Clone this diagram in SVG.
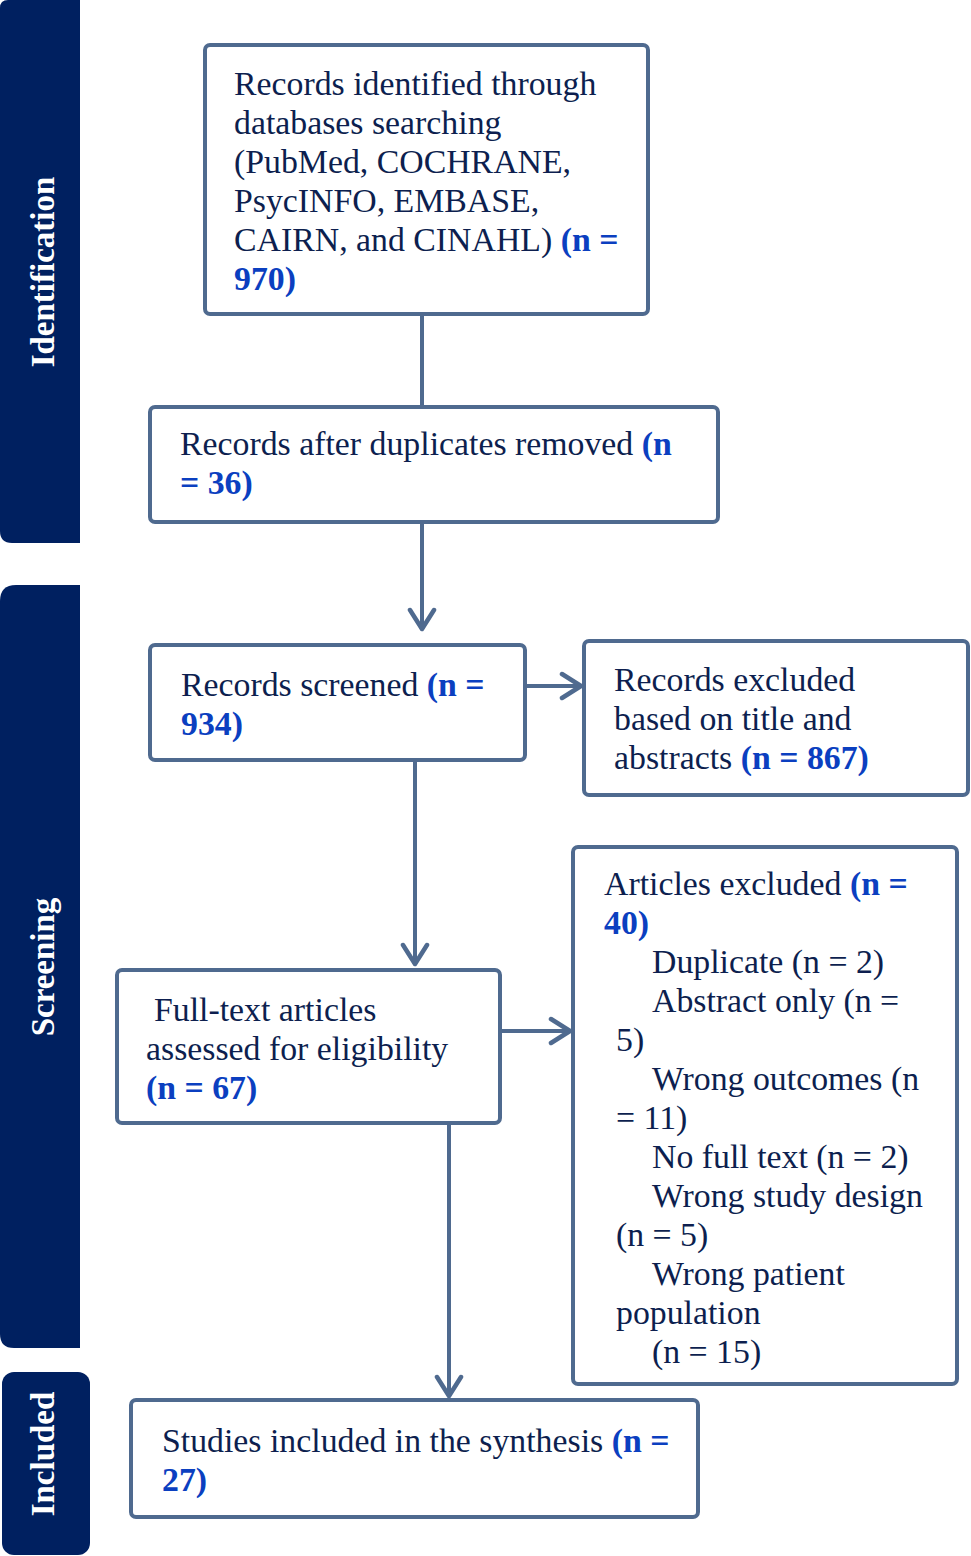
<svg xmlns="http://www.w3.org/2000/svg" width="971" height="1556" viewBox="0 0 971 1556">
<defs>
<style>
.bar{fill:#002060}
.lbl{font-family:"Liberation Serif","Times New Roman",serif;font-weight:bold;font-size:33px;fill:#ffffff;text-anchor:middle}
.box{fill:#ffffff;stroke:#4F6A8F;stroke-width:4}
.t{font-family:"Liberation Serif","Times New Roman",serif;font-size:33.8px;fill:#0D1F4F}
.b{font-weight:bold;fill:#0B3FC0}
.ln{fill:none;stroke:#4F6A8F;stroke-width:4}
</style>
<marker id="ah" viewBox="0 0 28 30" refX="24" refY="15" markerWidth="28" markerHeight="30" markerUnits="userSpaceOnUse" orient="auto">
<path d="M5,3 L24,15 L5,27" fill="none" stroke="#4F6A8F" stroke-width="4.5" stroke-linecap="round" stroke-linejoin="round"/>
</marker>
</defs>
<rect width="971" height="1556" fill="#ffffff"/>
<g id="phase-identification">
<path class="bar" d="M8,0 H80 V543 H12 Q0,543 0,531 V8 Q0,0 8,0 Z"/>
<text class="lbl" transform="translate(54,272) rotate(-90)">Identification</text>
</g>
<g id="phase-screening">
<path class="bar" d="M16,585 H80 V1348 H14 Q0,1348 0,1334 V601 Q0,585 16,585 Z"/>
<text class="lbl" transform="translate(54,967) rotate(-90)">Screening</text>
</g>
<g id="phase-included">
<rect class="bar" x="2" y="1372" width="88" height="183" rx="12"/>
<text class="lbl" transform="translate(54,1454) rotate(-90)">Included</text>
</g>
<g id="connectors">
<line class="ln" x1="422" y1="314" x2="422" y2="407"/>
<line class="ln" x1="422" y1="522" x2="422" y2="629" marker-end="url(#ah)"/>
<line class="ln" x1="525" y1="686" x2="581" y2="686" marker-end="url(#ah)"/>
<line class="ln" x1="415" y1="760" x2="415" y2="964" marker-end="url(#ah)"/>
<line class="ln" x1="500" y1="1031" x2="570" y2="1031" marker-end="url(#ah)"/>
<line class="ln" x1="449" y1="1123" x2="449" y2="1396" marker-end="url(#ah)"/>
</g>
<g id="node-identified">
<rect class="box" x="205" y="45" width="443" height="269" rx="5"/>
<text class="t" x="234" y="95">Records identified through</text>
<text class="t" x="234" y="134">databases searching</text>
<text class="t" x="234" y="173">(PubMed, COCHRANE,</text>
<text class="t" x="234" y="212">PsycINFO, EMBASE,</text>
<text class="t" x="234" y="251">CAIRN, and CINAHL) <tspan class="b">(n =</tspan></text>
<text class="t b" x="234" y="290">970)</text>
</g>
<g id="node-dedup">
<rect class="box" x="150" y="407" width="568" height="115" rx="5"/>
<text class="t" x="180" y="455">Records after duplicates removed <tspan class="b">(n</tspan></text>
<text class="t b" x="180" y="494">= 36)</text>
</g>
<g id="node-screened">
<rect class="box" x="150" y="645" width="375" height="115" rx="5"/>
<text class="t" x="181" y="696">Records screened <tspan class="b">(n =</tspan></text>
<text class="t b" x="181" y="735">934)</text>
</g>
<g id="node-excluded-records">
<rect class="box" x="584" y="641" width="384" height="154" rx="5"/>
<text class="t" x="614" y="691">Records excluded</text>
<text class="t" x="614" y="730">based on title and</text>
<text class="t" x="614" y="769">abstracts <tspan class="b">(n = 867)</tspan></text>
</g>
<g id="node-fulltext">
<rect class="box" x="117" y="970" width="383" height="153" rx="5"/>
<text class="t" x="154" y="1021">Full-text articles</text>
<text class="t" x="146" y="1060">assessed for eligibility</text>
<text class="t b" x="146" y="1099">(n = 67)</text>
</g>
<g id="node-excluded-articles">
<rect class="box" x="573" y="847" width="384" height="537" rx="5"/>
<text class="t" x="604" y="895">Articles excluded <tspan class="b">(n =</tspan></text>
<text class="t b" x="604" y="934">40)</text>
<text class="t" x="652" y="973">Duplicate (n = 2)</text>
<text class="t" x="652" y="1012">Abstract only (n =</text>
<text class="t" x="616" y="1051">5)</text>
<text class="t" x="652" y="1090">Wrong outcomes (n</text>
<text class="t" x="616" y="1129">= 11)</text>
<text class="t" x="652" y="1168">No full text (n = 2)</text>
<text class="t" x="652" y="1207">Wrong study design</text>
<text class="t" x="616" y="1246">(n = 5)</text>
<text class="t" x="652" y="1285">Wrong patient</text>
<text class="t" x="616" y="1324">population</text>
<text class="t" x="652" y="1363">(n = 15)</text>
</g>
<g id="node-included">
<rect class="box" x="131" y="1400" width="567" height="117" rx="5"/>
<text class="t" x="162" y="1452">Studies included in the synthesis <tspan class="b">(n =</tspan></text>
<text class="t b" x="162" y="1491">27)</text>
</g>
</svg>
